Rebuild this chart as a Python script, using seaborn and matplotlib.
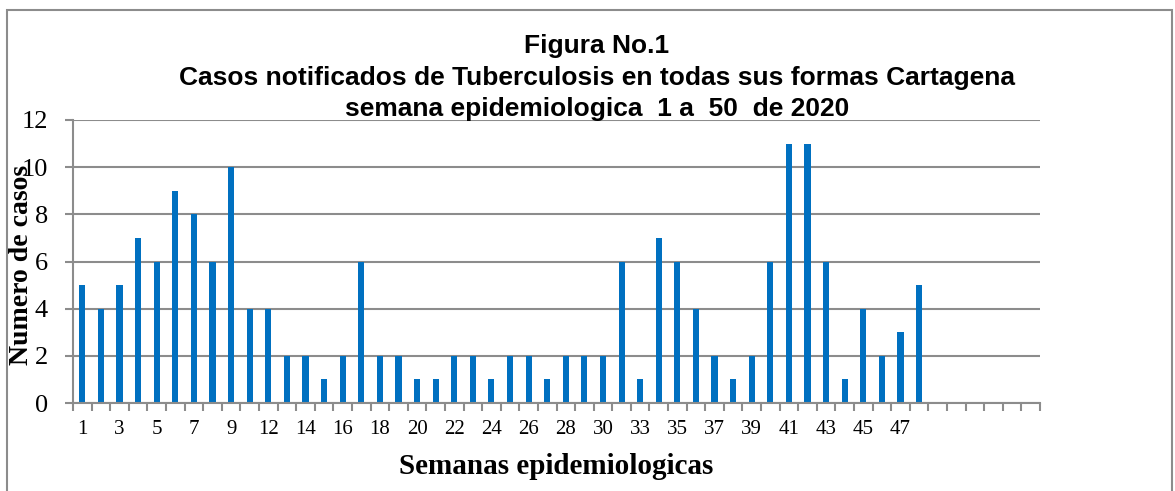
import numpy as np
import pandas as pd
import matplotlib
matplotlib.use('Agg')
import matplotlib.pyplot as plt
import seaborn as sns
from matplotlib.patches import Rectangle

# Semanas epidemiologicas (etiquetas del eje x) y casos notificados
semanas = ['1', '2', '3', '4', '5', '6', '7', '8', '9', '11',
           '12', '13', '14', '15', '16', '17', '18', '19', '20', '21',
           '22', '23', '24', '25', '26', '27', '28', '29', '30', '32',
           '33', '34', '35', '36', '37', '38', '39', '40', '41', '42',
           '43', '44', '45', '46', '47', '48']
casos = [5, 4, 5, 7, 6, 9, 8, 6, 10, 4,
         4, 2, 2, 1, 2, 6, 2, 2, 1, 1,
         2, 2, 1, 2, 2, 1, 2, 2, 2, 6,
         1, 7, 6, 4, 2, 1, 2, 6, 11, 11,
         6, 1, 4, 2, 3, 5]
semanas_vacias = 6  # categorias sin datos al final del eje

y_ticks = [0, 2, 4, 6, 8, 10, 12]

W, H = 1175, 491
sns.set_style("white")
fig = plt.figure(figsize=(W / 100, H / 100), dpi=100)
ax = fig.add_axes([73 / W, 1 - 403 / H, (1040 - 73) / W, (403 - 120) / H])

df = pd.DataFrame({'pos': range(len(casos)), 'casos': casos})
n_total = len(casos) + semanas_vacias
sns.barplot(data=df, x='pos', y='casos', order=list(range(n_total)),
            color='#0070C0', saturation=1, width=0.33, linewidth=0, ax=ax)

grid_color = '#8c8c8c'
ax.set_xlim(-0.5, n_total - 0.5)
ax.set_ylim(0, 12)
ax.set_yticks(y_ticks)
ax.set_yticklabels([str(v) for v in y_ticks], family='Liberation Serif', fontsize=19,
                   color='black')
ax.yaxis.grid(True, color=grid_color, linewidth=1.5)
ax.set_axisbelow(True)
ax.tick_params(axis='y', left=True, length=6, width=1.5, color=grid_color, pad=12)

# etiquetas cada dos semanas, marcas entre categorias
ax.set_xticks(range(0, len(semanas), 2))
ax.set_xticklabels(semanas[::2], family='Liberation Serif', fontsize=15, color='black')
ax.set_xticks(np.arange(-0.5, n_total, 1), minor=True)
ax.tick_params(axis='x', which='major', bottom=True, length=0, pad=12)
ax.tick_params(axis='x', which='minor', bottom=True, length=6, width=1.5, color=grid_color)

for side in ['top', 'right']:
    ax.spines[side].set_visible(False)
for side in ['left', 'bottom']:
    ax.spines[side].set_color(grid_color)
    ax.spines[side].set_linewidth(1.5)

ax.set_xlabel('')
ax.set_ylabel('')
fig.text(22 / W, 1 - 265 / H, 'Numero de casos', rotation=90, ha='center', va='center',
         family='Liberation Serif', fontweight='bold', fontsize=20, color='black')
fig.text(556 / W, 1 - 466 / H, 'Semanas epidemiologicas', ha='center', va='center',
         family='Liberation Serif', fontweight='bold', fontsize=21, color='black')

titulo = ['Figura No.1',
          'Casos notificados de Tuberculosis en todas sus formas Cartagena',
          'semana epidemiologica  1 a  50  de 2020']
for linea, yc in zip(titulo, [46, 78, 109]):
    fig.text(597 / W, 1 - yc / H, linea, ha='center', va='center',
             family='Liberation Sans', fontweight='bold', fontsize=19, color='black')

# marco del grafico
fig.add_artist(Rectangle((7 / W, -0.1), (1172 - 7) / W, (H - 10) / H + 0.1,
                         transform=fig.transFigure, fill=False,
                         edgecolor=grid_color, linewidth=1.5))

fig.savefig('out.png', dpi=100)
